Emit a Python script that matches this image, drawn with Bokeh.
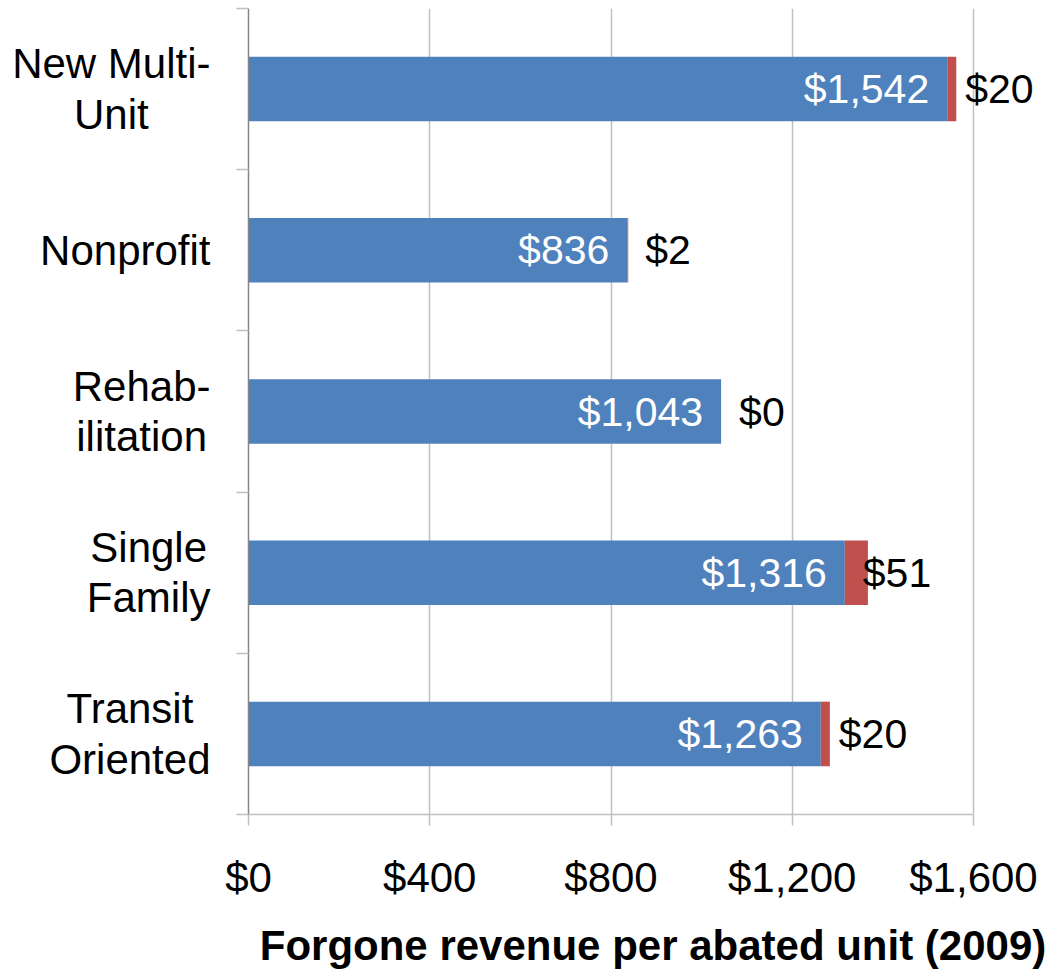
from bokeh.plotting import figure
from bokeh.layouts import row
from bokeh.models import ColumnDataSource, FixedTicker, NumeralTickFormatter, Range1d
from bokeh.core.properties import value
from bokeh.embed import file_html
from bokeh.resources import INLINE

categories = ["New Multi-\nUnit", "Nonprofit", "Rehab-\nilitation", "Single\nFamily", "Transit\nOriented"]
base_values = [1542, 836, 1043, 1316, 1263]
extra_values = [20, 2, 0, 51, 20]
x_ticks = [0, 400, 800, 1200, 1600]
x_title = "Forgone revenue per abated unit (2009)"

FONT = "Liberation Sans"
W, H = 1057, 971
LEFT_W = 220            # width of the label panel
FRAME_L = 248           # x of value 0
FRAME_R0 = 973          # x of last tick
TOP, BOTTOM = 8, 153
CAT_FS = 42
LABEL_RIGHT = 210       # right edge of category label blocks

# Arial / Liberation Sans advance widths (1/1000 em)
CW = {"N": 722, "e": 556, "w": 722, " ": 278, "M": 833, "u": 556, "l": 222, "t": 278,
      "i": 222, "-": 333, "U": 722, "n": 556, "o": 556, "p": 556, "r": 333, "f": 278,
      "R": 722, "h": 556, "a": 556, "b": 556, "S": 667, "g": 556, "F": 611, "m": 833,
      "y": 500, "T": 611, "s": 500, "O": 778, "d": 556}


def text_width(s, fs):
    return max(sum(CW.get(c, 556) for c in line) for line in s.split("\n")) * fs / 1000.0


n = len(categories)
ypos = [n - 0.5 - i for i in range(n)]
src = ColumnDataSource(dict(
    y=ypos,
    zero=[0] * n,
    base=base_values,
    total=[b + e for b, e in zip(base_values, extra_values)],
    base_lbl=["${:,}".format(v) for v in base_values],
    extra_lbl=["${:,}".format(v) for v in extra_values],
))

main_w = W - LEFT_W
frame_w = main_w - (FRAME_L - LEFT_W)
x_end = x_ticks[-1] * frame_w / (FRAME_R0 - FRAME_L)

y_range = Range1d(0, n)
p = figure(width=main_w, height=H, x_range=Range1d(0, x_end), y_range=y_range,
           output_backend="svg", toolbar_location=None,
           min_border_left=FRAME_L - LEFT_W, min_border_right=0,
           min_border_top=TOP, min_border_bottom=BOTTOM)
p.outline_line_color = None

p.hbar(y="y", left="zero", right="base", height=0.4, fill_color="#4F81BD", line_color=None, source=src)
p.hbar(y="y", left="base", right="total", height=0.4, fill_color="#C0504D", line_color=None, source=src)

p.text(x="base", y="y", text="base_lbl", x_offset=-18, source=src,
       text_align="right", text_baseline="middle", text_color="white",
       text_font=value(FONT), text_font_size="41px")
p.text(x="base", y="y", text="extra_lbl", x_offset=18, source=src,
       text_align="left", text_baseline="middle", text_color="black",
       text_font=value(FONT), text_font_size="41px")

# grid
p.ygrid.visible = False
p.xgrid.ticker = FixedTicker(ticks=x_ticks)
p.xgrid.grid_line_color = "#C0C0C0"
p.xgrid.grid_line_width = 1.5

# x axis
xa = p.xaxis[0]
xa.bounds = (x_ticks[0], x_ticks[-1])
xa.ticker = FixedTicker(ticks=x_ticks, minor_ticks=[])
xa.formatter = NumeralTickFormatter(format="$0,0")
xa.axis_line_color = "#BFBFBF"
xa.axis_line_width = 1.5
xa.major_tick_line_color = "#BFBFBF"
xa.major_tick_line_width = 1.5
xa.major_tick_out = 11
xa.major_tick_in = 0
xa.minor_tick_line_color = None
xa.major_label_text_font = FONT
xa.major_label_text_font_size = "42px"
xa.major_label_text_color = "black"
xa.major_label_standoff = 28
xa.axis_label = x_title
xa.axis_label_text_font = FONT
xa.axis_label_text_font_style = "bold"
xa.axis_label_text_font_size = "42px"
xa.axis_label_text_color = "black"
xa.axis_label_standoff = 18

# y axis: boundary ticks only
ya = p.yaxis[0]
ya.ticker = FixedTicker(ticks=ypos, minor_ticks=list(range(n + 1)))
ya.major_label_overrides = {y: "" for y in ypos}
ya.major_label_text_font_size = "0px"
ya.major_label_standoff = 0
ya.major_tick_line_color = None
ya.major_tick_out = 0
ya.major_tick_in = 0
ya.minor_tick_line_color = "#BFBFBF"
ya.minor_tick_line_width = 1.5
ya.minor_tick_out = 12
ya.minor_tick_in = 0
ya.axis_line_color = "#868686"
ya.axis_line_width = 1.5

# category label panel
lp = figure(width=LEFT_W, height=H, x_range=Range1d(0, LEFT_W), y_range=y_range,
            x_axis_location=None, y_axis_location=None,
            output_backend="svg", toolbar_location=None,
            min_border_left=0, min_border_right=0,
            min_border_top=TOP, min_border_bottom=BOTTOM)
lp.outline_line_color = None
lp.grid.visible = False
lsrc = ColumnDataSource(dict(
    y=ypos,
    x=[LABEL_RIGHT - text_width(c, CAT_FS) / 2 for c in categories],
    text=categories,
))
lp.text(x="x", y="y", text="text", source=lsrc, text_align="center", text_baseline="middle",
        text_font=value(FONT), text_font_size="{}px".format(CAT_FS), text_color="black",
        text_line_height=1.07)

layout = row(lp, p, spacing=0)
open("out.html", "w").write(file_html(layout, INLINE))
